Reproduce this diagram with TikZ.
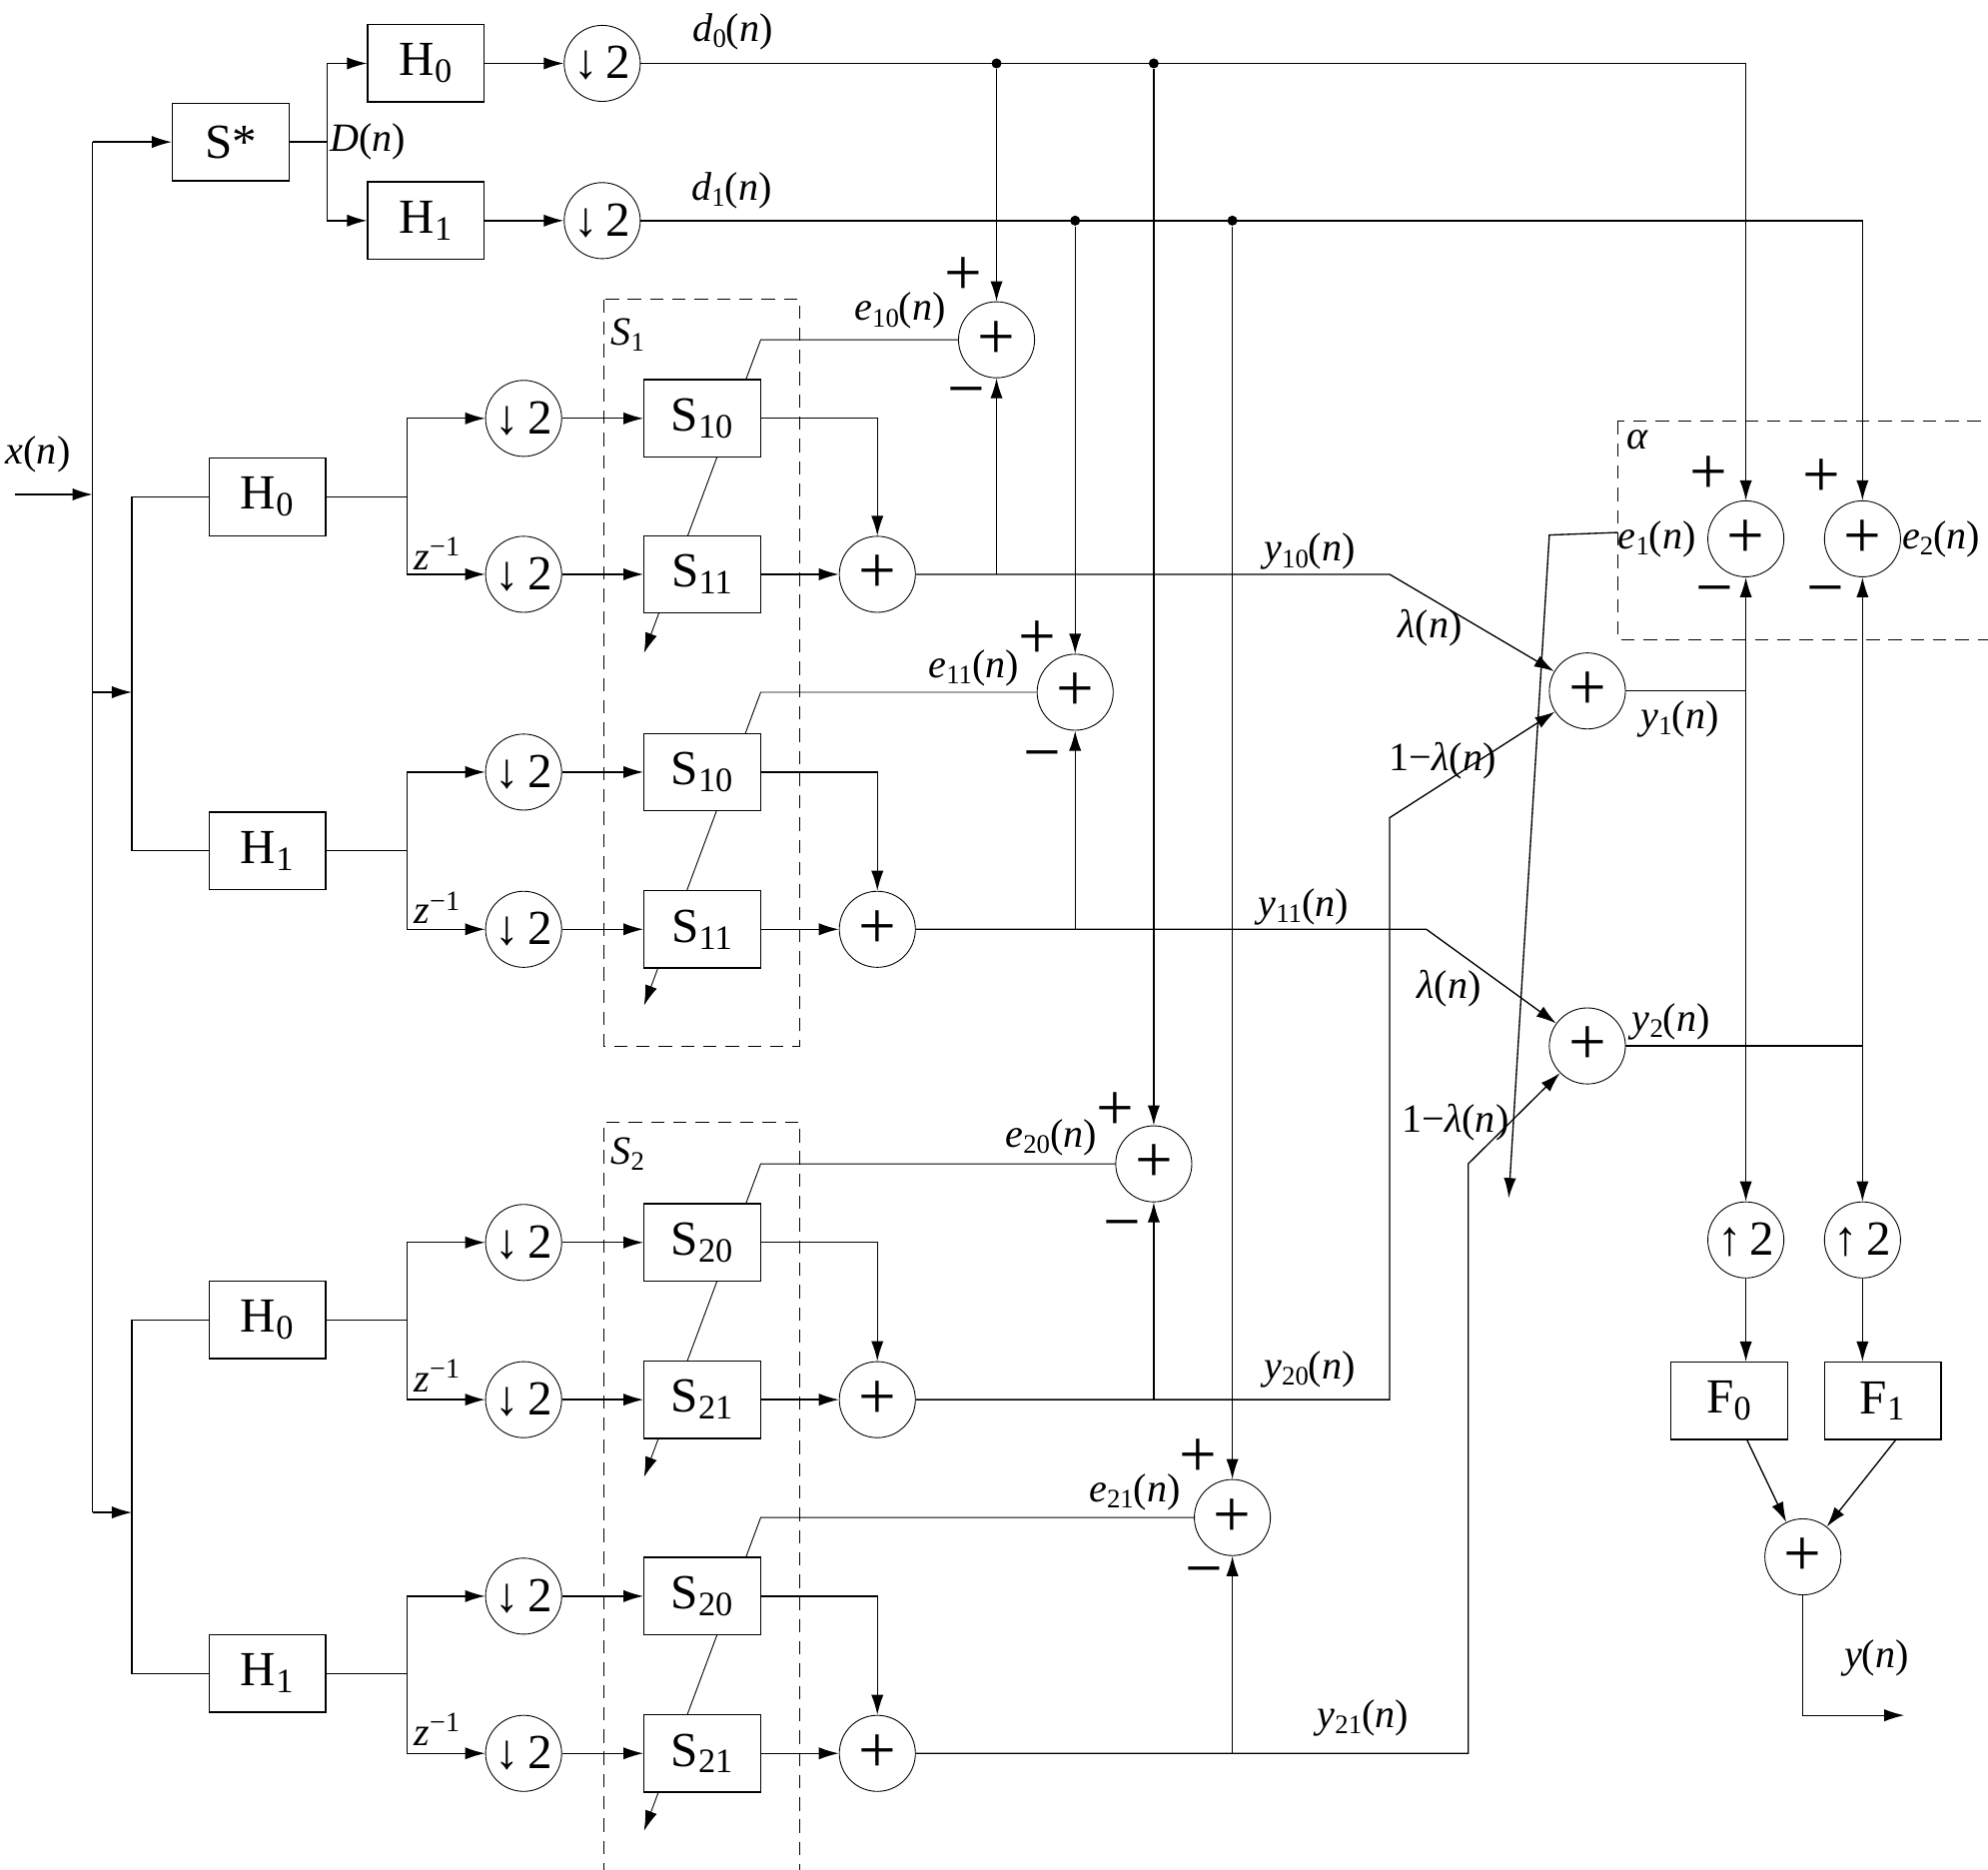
\documentclass[tikz,border=0pt]{standalone}
\usepackage{fontspec}
\setmainfont{Liberation Serif}
\usepackage{tikz}
\usetikzlibrary{arrows,arrows.meta,shapes,positioning,backgrounds}
\newcommand{\lowix}[1]{\raisebox{-0.35ex}{\fontsize{12}{12}\selectfont #1}}
\newcommand{\sig}[2]{\textit{#1}\lowix{#2}(\textit{n})}
\tikzstyle{arrow} = [-{Latex[length=9pt,width=5.5pt]}]
\tikzstyle{block} = [rectangle, draw, fill=white, minimum width=1.84cm, minimum height=1.22cm, inner sep=0pt, font=\fontsize{22}{24}\selectfont]
\tikzstyle{dsamp} = [circle, draw, fill=white, thin, minimum size=1.2cm, inner sep=0pt, font=\fontsize{22}{24}\selectfont]
\tikzstyle{adder} = [circle, draw, fill=white, thin, minimum size=1.2cm, inner sep=0pt, font=\fontsize{30}{30}\selectfont]
\tikzstyle{lbl} = [font=\fontsize{18}{20}\selectfont, inner sep=1pt]
\tikzstyle{sgn} = [font=\fontsize{30}{30}\selectfont, inner sep=0pt]
\tikzstyle{dot} = [circle, fill, inner sep=0pt, minimum size=4.5pt]
\tikzstyle{dashbox} = [dashed, dash pattern=on 6pt off 4pt, thin]

\begin{document}
\begin{tikzpicture}[x=0.02cm, y=-0.02cm, line width=0.6pt]
\useasboundingbox (0,0) rectangle (1568,1475);
% Nodes - top
\node (sstar) [block] at (182,112) {S*};
\node (h0t) [block] at (336,50) {H\textsubscript{0}};
\node (h1t) [block] at (336,174) {H\textsubscript{1}};
\node (dt0) [dsamp] at (475,50) {↓\,2};
\node (dt1) [dsamp] at (475,174) {↓\,2};
\coordinate (brs) at (258,112);

% Nodes - S1, H0
\node (ha) [block] at (211,392) {H\textsubscript{0}};
\coordinate (ba) at (321,392);
\node (da0) [dsamp] at (413,330) {↓\,2};
\node (da1) [dsamp] at (413,453) {↓\,2};
\node (sa0) [block] at (554,330) {S\textsubscript{10}};
\node (sa1) [block] at (554,453) {S\textsubscript{11}};
\node (pa) [adder] at (692,453) {+};
\node (ea) [adder] at (786,268) {+};

% Nodes - S1, H1
\node (hb) [block] at (211,671) {H\textsubscript{1}};
\coordinate (bb) at (321,671);
\node (db0) [dsamp] at (413,609) {↓\,2};
\node (db1) [dsamp] at (413,733) {↓\,2};
\node (sb0) [block] at (554,609) {S\textsubscript{10}};
\node (sb1) [block] at (554,733) {S\textsubscript{11}};
\node (pb) [adder] at (692,733) {+};
\node (eb) [adder] at (848,546) {+};

% Nodes - S2, H0
\node (hc) [block] at (211,1041) {H\textsubscript{0}};
\coordinate (bc) at (321,1041);
\node (dc0) [dsamp] at (413,980) {↓\,2};
\node (dc1) [dsamp] at (413,1104) {↓\,2};
\node (sc0) [block] at (554,980) {S\textsubscript{20}};
\node (sc1) [block] at (554,1104) {S\textsubscript{21}};
\node (pc) [adder] at (692,1104) {+};
\node (ec) [adder] at (910,918) {+};

% Nodes - S2, H1
\node (hd) [block] at (211,1320) {H\textsubscript{1}};
\coordinate (bd) at (321,1320);
\node (dd0) [dsamp] at (413,1259) {↓\,2};
\node (dd1) [dsamp] at (413,1383) {↓\,2};
\node (sd0) [block] at (554,1259) {S\textsubscript{20}};
\node (sd1) [block] at (554,1383) {S\textsubscript{21}};
\node (pd) [adder] at (692,1383) {+};
\node (ed) [adder] at (972,1197) {+};

% Nodes - right side
\node (y1s) [adder] at (1252,545) {+};
\node (y2s) [adder] at (1252,825) {+};
\node (e1s) [adder] at (1377,425) {+};
\node (e2s) [adder] at (1469,425) {+};
\node (u0) [dsamp] at (1377,978) {↑\,2};
\node (u1) [dsamp] at (1469,978) {↑\,2};
\node (f0) [block] at (1364,1105) {F\textsubscript{0}};
\node (f1) [block] at (1485,1105) {F\textsubscript{1}};
\node (fs) [adder] at (1422,1228) {+};
\coordinate (xin) at (12,390);
\coordinate (yout) at (1502,1353);
\coordinate (e1o) at (1276,420);
\coordinate (e1end) at (1190,945);

% Adaptation lines behind the blocks
\begin{scope}[on background layer]
\draw[arrow] (ea) -- (600,268) -- (508,515);
\draw[arrow] (eb) -- (600,546) -- (508,793);
\draw[arrow] (ec) -- (600,918) -- (508,1165);
\draw[arrow] (ed) -- (600,1197) -- (508,1444);
\end{scope}

% Arrows - input
\draw[arrow] (xin) -- (73,390);
\draw (73,112) -- (73,1193);
\draw[arrow] (73,112) -- (sstar);
\draw[arrow] (73,546) -- (104,546);
\draw[arrow] (73,1193) -- (104,1193);
\draw (ha) -| (104,546) |- (hb);
\draw (hc) -| (104,1193) |- (hd);

% Arrows - reference branch
\draw (sstar) -- (brs);
\draw[arrow] (brs) |- (h0t);
\draw[arrow] (brs) |- (h1t);
\draw[arrow] (h0t) -- (dt0);
\draw[arrow] (h1t) -- (dt1);
\draw[arrow] (dt0) -| (e1s);
\draw[arrow] (dt1) -| (e2s);
\node (j0a) [dot] at (ea |- dt0) {};
\node (j0b) [dot] at (ec |- dt0) {};
\node (j1a) [dot] at (eb |- dt1) {};
\node (j1b) [dot] at (ed |- dt1) {};
\draw[arrow] (j0a) -- (ea);
\draw[arrow] (j0b) -- (ec);
\draw[arrow] (j1a) -- (eb);
\draw[arrow] (j1b) -- (ed);

% Arrows - S1, H0
\draw (ha) -- (ba);
\draw[arrow] (ba) |- (da0);
\draw[arrow] (ba) |- (da1);
\draw[arrow] (da0) -- (sa0);
\draw[arrow] (da1) -- (sa1);
\draw[arrow] (sa0) -| (pa);
\draw[arrow] (sa1) -- (pa);
\draw[arrow] (ea |- pa) -- (ea);
\draw[arrow] (pa) -- (1096,453) -- (y1s);

% Arrows - S1, H1
\draw (hb) -- (bb);
\draw[arrow] (bb) |- (db0);
\draw[arrow] (bb) |- (db1);
\draw[arrow] (db0) -- (sb0);
\draw[arrow] (db1) -- (sb1);
\draw[arrow] (sb0) -| (pb);
\draw[arrow] (sb1) -- (pb);
\draw[arrow] (eb |- pb) -- (eb);
\draw[arrow] (pb) -- (1125,733) -- (y2s);

% Arrows - S2, H0
\draw (hc) -- (bc);
\draw[arrow] (bc) |- (dc0);
\draw[arrow] (bc) |- (dc1);
\draw[arrow] (dc0) -- (sc0);
\draw[arrow] (dc1) -- (sc1);
\draw[arrow] (sc0) -| (pc);
\draw[arrow] (sc1) -- (pc);
\draw[arrow] (ec |- pc) -- (ec);
\draw[arrow] (pc) -- (1096,1104) -- (1096,645) -- (y1s);

% Arrows - S2, H1
\draw (hd) -- (bd);
\draw[arrow] (bd) |- (dd0);
\draw[arrow] (bd) |- (dd1);
\draw[arrow] (dd0) -- (sd0);
\draw[arrow] (dd1) -- (sd1);
\draw[arrow] (sd0) -| (pd);
\draw[arrow] (sd1) -- (pd);
\draw[arrow] (ed |- pd) -- (ed);
\draw[arrow] (pd) -- (1158,1383) -- (1158,918) -- (y2s);

% Arrows - combination and synthesis
\draw (y1s) -- (e1s |- y1s);
\draw[arrow] (e1s |- y1s) -- (e1s);
\draw[arrow] (e1s |- y1s) -- (u0);
\draw (y2s) -- (e2s |- y2s);
\draw[arrow] (e2s |- y2s) -- (e2s);
\draw[arrow] (e2s |- y2s) -- (u1);
\draw[arrow] (u0) -- (u0 |- f0.north);
\draw[arrow] (u1) -- (u1 |- f1.north);
\draw[arrow] ([xshift=0.28cm]f0.south) -- (fs);
\draw[arrow] ([xshift=0.2cm]f1.south) -- (fs);
\draw[arrow] (fs) |- (yout);
\draw[arrow] (e1o) -- (1222,422) -- (e1end);

% Dashed frames
\draw[dashbox] (476,236) rectangle (631,825);
\draw[dashbox] (476,1480) -- (476,885) -- (631,885) -- (631,1480);
\draw[dashbox] (1276,332) rectangle (1580,505);

% Labels
\node (lD) [lbl, anchor=west] at (brs) {\textit{D}(\textit{n})};
\node (ld0) [lbl] at (578,25) {\sig{d}{0}};
\node (ld1) [lbl] at (577,150) {\sig{d}{1}};
\node (lx) [lbl] at (30,358) {\textit{x}(\textit{n})};
\node (lS1) [lbl] at (495,264) {\textit{S}\lowix{1}};
\node (lS2) [lbl] at (495,910) {\textit{S}\lowix{2}};
\node (lza) [lbl] at (345,437) {\textit{z}\textsuperscript{−1}};
\node (lzb) [lbl] at (345,716) {\textit{z}\textsuperscript{−1}};
\node (lzc) [lbl] at (345,1085) {\textit{z}\textsuperscript{−1}};
\node (lzd) [lbl] at (345,1364) {\textit{z}\textsuperscript{−1}};
\node (le10) [lbl] at (710,245) {\sig{e}{10}};
\node (le11) [lbl] at (768,527) {\sig{e}{11}};
\node (le20) [lbl] at (829,897) {\sig{e}{20}};
\node (le21) [lbl] at (895,1177) {\sig{e}{21}};
\node (ly10) [lbl] at (1033,435) {\sig{y}{10}};
\node (ly11) [lbl] at (1028,715) {\sig{y}{11}};
\node (ly20) [lbl] at (1033,1080) {\sig{y}{20}};
\node (ly21) [lbl] at (1075,1355) {\sig{y}{21}};
\node (lla) [lbl] at (1128,495) {\textit{λ}(\textit{n})};
\node (llb) [lbl] at (1143,780) {\textit{λ}(\textit{n})};
\node (lma) [lbl] at (1138,600) {1−\textit{λ}(\textit{n})};
\node (lmb) [lbl] at (1148,885) {1−\textit{λ}(\textit{n})};
\node (ly1) [lbl] at (1325,567) {\sig{y}{1}};
\node (ly2) [lbl] at (1318,806) {\sig{y}{2}};
\node (lal) [lbl] at (1292,347) {\textit{α}};
\node (le1) [lbl] at (1307,425) {\sig{e}{1}};
\node (le2) [lbl] at (1531,425) {\sig{e}{2}};
\node (lyo) [lbl] at (1480,1308) {\textit{y}(\textit{n})};

% Signs
\node (pla) [sgn] at (760,218) {+};
\node (mia) [sgn] at (762,315) {−};
\node (plb) [sgn] at (818,505) {+};
\node (mib) [sgn] at (822,602) {−};
\node (plc) [sgn] at (880,877) {+};
\node (mic) [sgn] at (885,972) {−};
\node (pld) [sgn] at (945,1150) {+};
\node (mid) [sgn] at (950,1245) {−};
\node (ple1) [sgn] at (1348,375) {+};
\node (mie1) [sgn] at (1352,472) {−};
\node (ple2) [sgn] at (1437,377) {+};
\node (mie2) [sgn] at (1440,472) {−};
\end{tikzpicture}
\end{document}
